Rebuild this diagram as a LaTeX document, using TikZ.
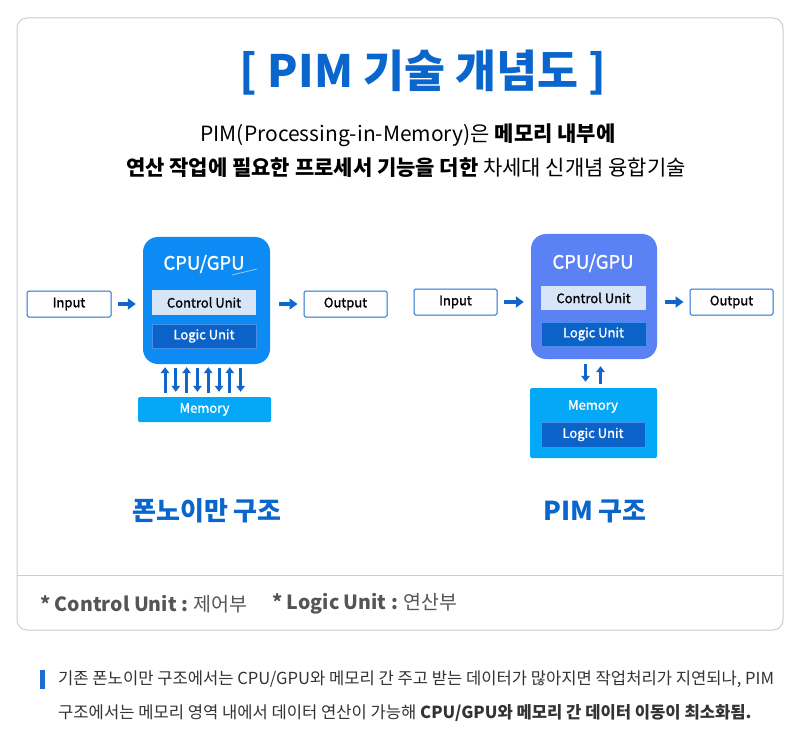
\documentclass[tikz,border=0pt]{standalone}
\usepackage{fontspec}
\setmainfont{Noto Sans CJK KR}
\newfontfamily\medfont{Noto Sans CJK KR}[FakeBold=1.3]
\usetikzlibrary{arrows.meta}
\definecolor{titleblue}{HTML}{0A66CC}
\definecolor{lblue}{HTML}{0D8BF5}
\definecolor{pblue}{HTML}{5B82F5}
\definecolor{memblue}{HTML}{05A8F7}
\definecolor{logicblue}{HTML}{0B62C9}
\definecolor{logicedge}{HTML}{4A8FE6}
\definecolor{ctrlfill}{HTML}{D6E6F8}
\definecolor{borderblue}{HTML}{1C6FD1}
\definecolor{arrowblue}{HTML}{1166CC}
\definecolor{cardgray}{HTML}{CDCDCD}
\definecolor{textgray}{HTML}{555555}
\definecolor{darktext}{HTML}{333333}
\newcommand{\fs}[1]{\fontsize{#1}{#1}\selectfont}
\begin{document}
\begin{tikzpicture}[x=1pt,y=-1pt,
  iobox/.style={draw=borderblue, line width=1pt, fill=white, minimum width=84pt, minimum height=26pt, rounded corners=1.5pt, font=\medfont\fs{13}, inner sep=0pt, text=black},
  cpubox/.style={rounded corners=15pt, inner sep=0pt},
  ctrlbox/.style={fill=ctrlfill, minimum width=104pt, minimum height=25pt, inner sep=0pt, font=\medfont\fs{13}, text=black},
  logicbox/.style={fill=logicblue, draw=logicedge, line width=1pt, minimum width=104pt, minimum height=24pt, inner sep=0pt, font=\medfont\fs{13}, text=white},
  membox/.style={fill=memblue, rounded corners=1.5pt, inner sep=0pt, font=\medfont\fs{13}, text=white},
  cputext/.style={text=white, font=\medfont\fs{18.5}, inner sep=0pt},
  harrow/.style={draw=arrowblue, line width=4.5pt, -{Triangle[length=8pt,width=11pt]}},
  varrow/.style={draw=arrowblue, line width=3pt, -{Triangle[length=6pt,width=8.5pt]}},
  sectitle/.style={text=titleblue, font=\fs{26}\bfseries, inner sep=0pt}
]
\useasboundingbox (0,0) rectangle (800,751);
\fill[white] (0,0) rectangle (800,751);
% card
\draw[cardgray, line width=1pt, rounded corners=10pt] (17,18) rectangle (783,630);
\draw[cardgray, line width=1pt] (17,575) -- (783,575);
% title
\node[text=titleblue, font=\fs{44.5}\bfseries, inner sep=0pt] (title) at (423,73) {[ PIM 기술 개념도 ]};
\node[font=\fs{21}, text=black, inner sep=0pt] (sub1) at (408,135) {PIM(Processing-in-Memory)은 \textbf{메모리 내부에}};
\node[font=\fs{21}, text=black, inner sep=0pt] (sub2) at (406,168) {\textbf{연산 작업에 필요한 프로세서 기능을 더한} 차세대 신개념 융합기술};
% left diagram
\node[cpubox, fill=lblue, minimum width=127pt, minimum height=127pt] (cpu1) at (206.5,300.5) {};
\node[cputext] (cpu1t) at (204,264) {CPU/GPU};
\draw[color=white!55!lblue, line width=0.8pt] (232,275) -- (257,269);
\node[ctrlbox] (ctrl1) at (204,302.5) {Control Unit};
\node[logicbox] (logic1) at (204,336) {Logic Unit};
\node[iobox] (in1) at (69,304) {Input};
\node[iobox, minimum width=83pt] (out1) at (345.5,304) {Output};
\node[membox, minimum width=133pt, minimum height=25pt] (mem1) at (204.5,409.5) {Memory};
\draw[harrow, shorten <=6pt, shorten >=7pt] (in1.east) -- (cpu1.west |- in1.east);
\draw[harrow, shorten <=9pt, shorten >=6pt] (cpu1.east |- out1.west) -- (out1.west);
\foreach \i in {0,2,4,6}{
  \draw[varrow, shorten <=4pt, shorten >=3pt] ([xshift={-41.5+10.8*\i}]cpu1.south |- mem1.north) -- ([xshift={-41.5+10.8*\i}]cpu1.south);
}
\foreach \i in {1,3,5,7}{
  \draw[varrow, shorten <=4pt, shorten >=5pt] ([xshift={-41.5+10.8*\i}]cpu1.south) -- ([xshift={-41.5+10.8*\i}]cpu1.south |- mem1.north);
}
% right diagram
\node[cpubox, fill=pblue, minimum width=126pt, minimum height=125pt] (cpu2) at (594,296.5) {};
\node[cputext] (cpu2t) at (593,263) {CPU/GPU};
\node[ctrlbox, minimum width=105pt, minimum height=24pt] (ctrl2) at (593.5,298) {Control Unit};
\node[logicbox, minimum width=105pt] (logic2) at (593.5,334) {Logic Unit};
\node[iobox, minimum width=83pt] (in2) at (455.5,302) {Input};
\node[iobox, minimum width=83pt] (out2) at (731.5,302) {Output};
\node[membox, minimum width=127pt, minimum height=70pt] (mem2) at (593.5,423) {};
\node[text=white, font=\medfont\fs{13}, inner sep=0pt] (mem2t) at (593,406.5) {Memory};
\node[logicbox, minimum width=104pt, minimum height=25pt] (logic3) at (593,434.5) {Logic Unit};
\draw[harrow, shorten <=6pt, shorten >=7pt] (in2.east) -- (cpu2.west |- in2.east);
\draw[harrow, shorten <=8pt, shorten >=6pt] (cpu2.east |- out2.west) -- (out2.west);
\draw[varrow, shorten <=5pt, shorten >=6pt] ([xshift=-8.5pt]cpu2.south) -- ([xshift=-8.5pt]cpu2.south |- mem2.north);
\draw[varrow, shorten <=4pt, shorten >=7pt] ([xshift=6.5pt]cpu2.south |- mem2.north) -- ([xshift=6.5pt]cpu2.south);
% section titles
\node[sectitle] (lt) at (207,511) {폰노이만 구조};
\node[sectitle] (rt) at (595,511) {PIM 구조};
% notes
\node[anchor=west, text=textgray, font=\fs{19.5}, inner sep=0pt] (n1) at (40,604) {\textbf{* Control Unit :} 제어부};
\node[anchor=west, text=textgray, font=\fs{19.5}, inner sep=0pt] (n2) at (272,604) {\textbf{* Logic Unit :} 연산부};
% footnote
\fill[borderblue] (40,670) rectangle (45,689);
\node[anchor=west, text=darktext, font=\fs{16.6}, inner sep=0pt] (f1) at (58,679) {기존 폰노이만 구조에서는 CPU/GPU와 메모리 간 주고 받는 데이터가 많아지면 작업처리가 지연되나, PIM};
\node[anchor=west, text=darktext, font=\fs{16.6}, inner sep=0pt] (f2) at (58,713) {구조에서는 메모리 영역 내에서 데이터 연산이 가능해 \textbf{CPU/GPU와 메모리 간 데이터 이동이 최소화됨.}};
\end{tikzpicture}
\end{document}
